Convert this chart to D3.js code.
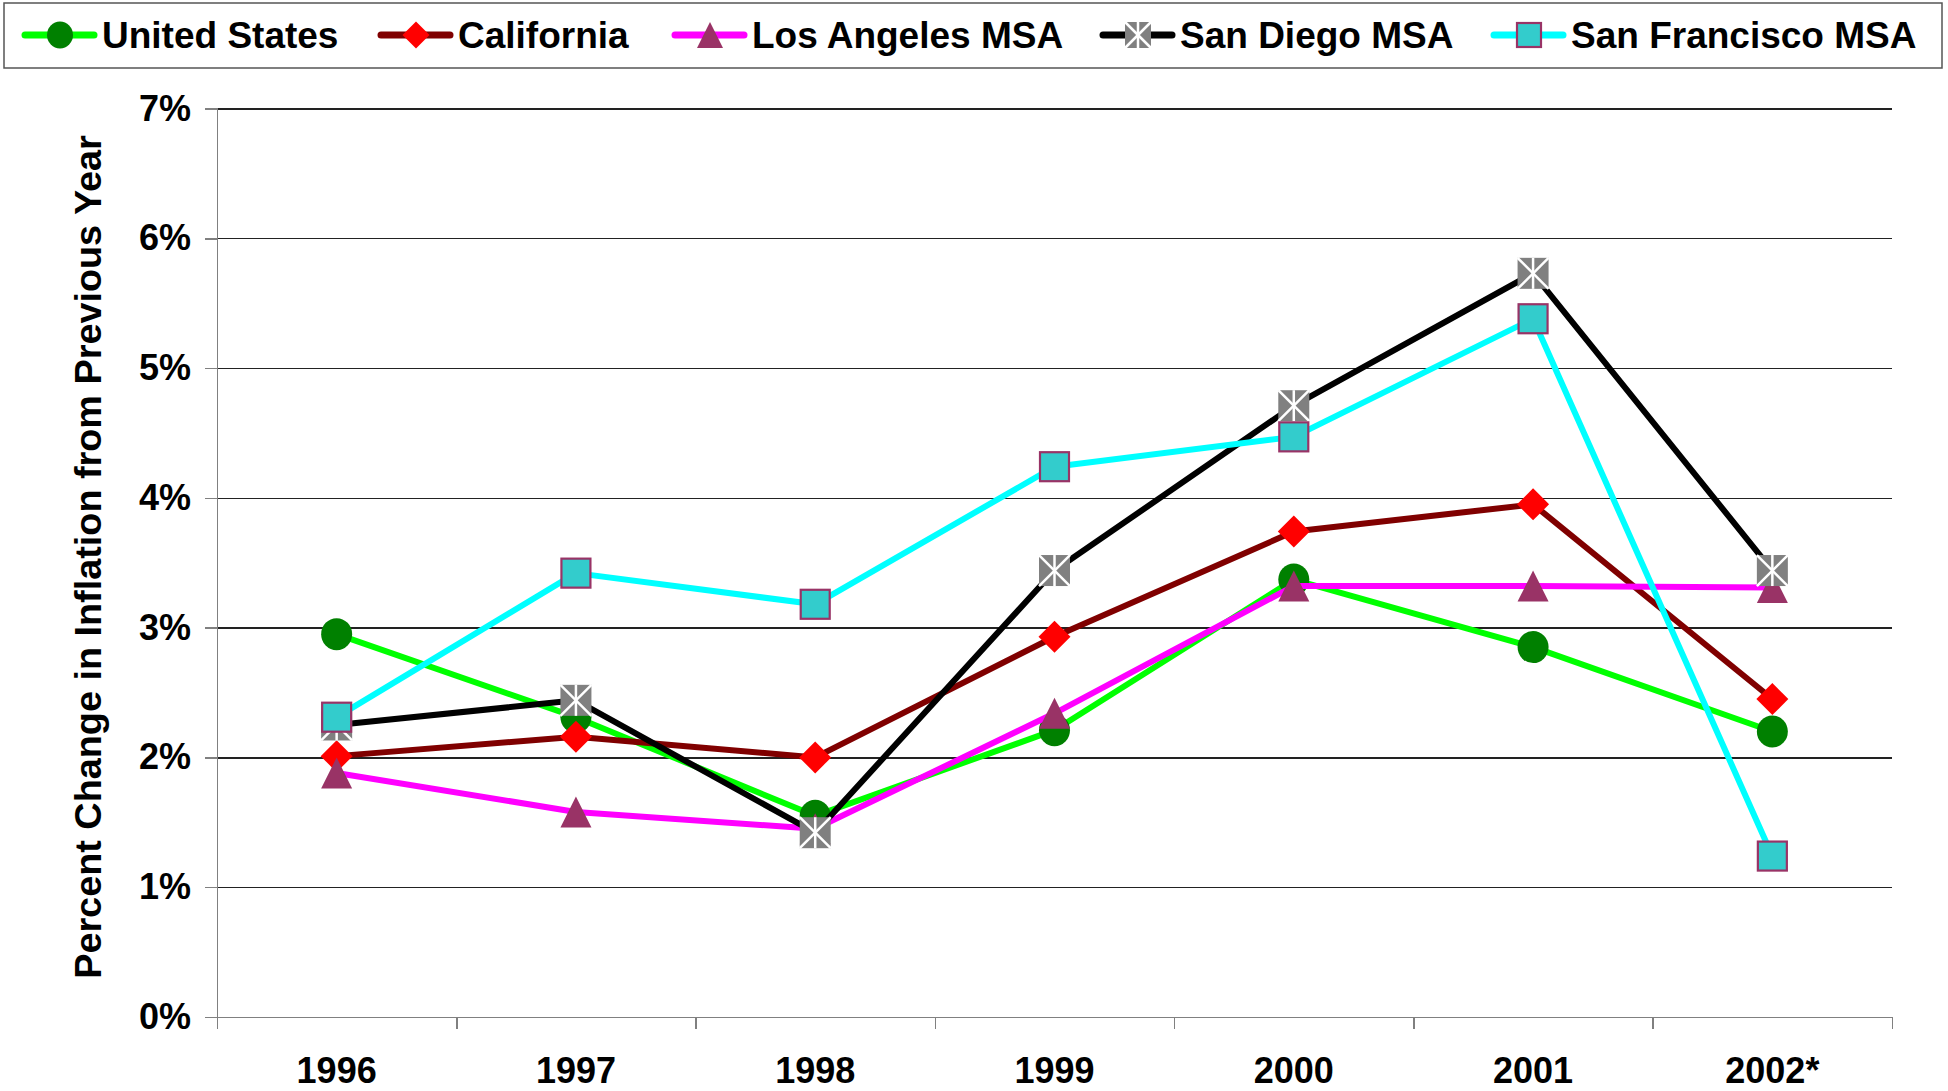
<html lang="en">
<head>
<meta charset="utf-8">
<title>Inflation change 1996-2002</title>
<style>
    body { margin: 0; background-color: white; font-family: "Liberation Sans", Arial, Helvetica, sans-serif; }
    svg { background-color: white; display: block; }
    text { font-weight: bold; fill: black; }
    .axis text { font-size: 36px; font-family: "Liberation Sans", Arial, sans-serif; }
    .grid line { stroke: #222; stroke-width: 1.3; shape-rendering: crispEdges; }
    .grid path { display: none; }
    .axis path, .axis line { stroke: #808080; stroke-width: 1.5; shape-rendering: crispEdges; }
    .legend text { font-size: 37px; }
</style>
</head>
<body>
<script src="https://cdnjs.cloudflare.com/ajax/libs/d3/7.8.5/d3.min.js"></script>
<script>
// categories and values (percent change from previous year)
var years = ["1996", "1997", "1998", "1999", "2000", "2001", "2002*"];
var unitedStates  = [2.95, 2.31, 1.55, 2.21, 3.37, 2.85, 2.20];
var california    = [2.01, 2.16, 2.00, 2.93, 3.74, 3.95, 2.45];
var losAngeles    = [1.88, 1.58, 1.45, 2.34, 3.32, 3.32, 3.31];
var sanDiego      = [2.25, 2.44, 1.42, 3.44, 4.71, 5.73, 3.44];
var sanFrancisco  = [2.31, 3.42, 3.18, 4.24, 4.47, 5.38, 1.24];
var yTicks = [0, 1, 2, 3, 4, 5, 6, 7];

var series = [
    { name: "United States",     values: unitedStates, line: "#00ff00", marker: "circle" },
    { name: "California",        values: california,   line: "#800000", marker: "diamond" },
    { name: "Los Angeles MSA",   values: losAngeles,   line: "#ff00ff", marker: "triangle" },
    { name: "San Diego MSA",     values: sanDiego,     line: "#000000", marker: "star" },
    { name: "San Francisco MSA", values: sanFrancisco, line: "#00ffff", marker: "square" }
];

var fullwidth = 1948, fullheight = 1091;
var margin = { top: 108.5, right: 56, bottom: 74, left: 217 };
var width = fullwidth - margin.left - margin.right;
var height = fullheight - margin.top - margin.bottom;

var svg = d3.select("body").append("svg")
    .attr("width", fullwidth)
    .attr("height", fullheight);

var g = svg.append("g")
    .attr("transform", "translate(" + margin.left + "," + margin.top + ")");

var xScale = d3.scaleBand().domain(years).range([0, width]).padding(0);
var xEdges = d3.scaleLinear().domain([0, years.length]).range([0, width]);
var yScale = d3.scaleLinear().domain([0, 7]).range([height, 0]);

// gridlines
g.append("g")
    .attr("class", "grid")
    .call(d3.axisLeft(yScale).tickValues(yTicks.slice(1)).tickSize(-width).tickFormat(""));

// y axis
g.append("g")
    .attr("class", "y axis")
    .call(d3.axisLeft(yScale).tickValues(yTicks).tickSize(12).tickPadding(14)
        .tickFormat(function(d) { return d + "%"; }));

// x axis: ticks on category edges, labels in the middle
g.append("g")
    .attr("class", "x axis")
    .attr("transform", "translate(0," + height + ")")
    .call(d3.axisBottom(xEdges).ticks(years.length).tickSize(12).tickFormat(""));

g.append("g")
    .attr("class", "x axis labels")
    .attr("transform", "translate(0," + height + ")")
    .call(d3.axisBottom(xScale).tickSize(0).tickPadding(40))
    .call(function(s) { s.select(".domain").remove(); });

// y title
svg.append("text")
    .attr("transform", "translate(88,557) rotate(-90)")
    .attr("text-anchor", "middle")
    .attr("dy", "0.35em")
    .style("font-size", "37.8px")
    .text("Percent Change in Inflation from Previous Year");

// marker drawing
function drawMarker(sel, type, s) {
    var h = s / 2;
    if (type === "circle") {
        sel.append("ellipse").attr("rx", h).attr("ry", h + 0.5).attr("fill", "#008000");
    } else if (type === "diamond") {
        sel.append("polygon")
            .attr("points", [[0, -h - 0.5], [h + 0.5, 0], [0, h + 0.5], [-h - 0.5, 0]].join(" "))
            .attr("fill", "#ff0000");
    } else if (type === "triangle") {
        sel.append("polygon")
            .attr("points", [[0, -h], [h, h], [-h, h]].join(" "))
            .attr("fill", "#993366");
    } else if (type === "star") {
        sel.append("rect").attr("x", -h).attr("y", -h).attr("width", s).attr("height", s)
            .attr("fill", "#808080");
        var ls = [[-h, -h, h, h], [-h, h, h, -h], [0, -h, 0, h]];
        ls.forEach(function(l) {
            sel.append("line")
                .attr("x1", l[0]).attr("y1", l[1]).attr("x2", l[2]).attr("y2", l[3])
                .attr("stroke", "white").attr("stroke-width", 2.5);
        });
    } else if (type === "square") {
        sel.append("rect").attr("x", -h + 1).attr("y", -h + 1).attr("width", s - 2).attr("height", s - 2)
            .attr("fill", "#33cccc").attr("stroke", "#993366").attr("stroke-width", 2.2);
    }
}

var line = d3.line()
    .x(function(d, i) { return xScale(years[i]) + xScale.bandwidth() / 2; })
    .y(function(d) { return yScale(d); });

series.forEach(function(s) {
    var sg = g.append("g").attr("class", "series");
    sg.append("path")
        .datum(s.values)
        .attr("d", line)
        .attr("fill", "none")
        .attr("stroke", s.line)
        .attr("stroke-width", 6)
        .attr("stroke-linejoin", "round");

    sg.selectAll("g.marker")
        .data(s.values)
        .enter()
        .append("g")
        .attr("class", "marker")
        .attr("transform", function(d, i) {
            return "translate(" + (xScale(years[i]) + xScale.bandwidth() / 2) + "," + yScale(d) + ")";
        })
        .each(function() { drawMarker(d3.select(this), s.marker, 31); });
});

// legend
var legendX = [25, 381, 675, 1103, 1494];
var legend = svg.append("g").attr("class", "legend");
legend.append("rect")
    .attr("x", 4).attr("y", 3).attr("width", 1938).attr("height", 65)
    .attr("fill", "white").attr("stroke", "#555").attr("stroke-width", 1.5);

series.forEach(function(s, i) {
    var it = legend.append("g").attr("transform", "translate(" + legendX[i] + ",35)");
    it.append("line")
        .attr("x1", 0).attr("x2", 69).attr("y1", 0).attr("y2", 0)
        .attr("stroke", s.line).attr("stroke-width", 7).attr("stroke-linecap", "round");
    var m = it.append("g").attr("transform", "translate(35,0)");
    drawMarker(m, s.marker, 26);
    it.append("text").attr("x", 77).attr("y", 13).text(s.name);
});
</script>
</body>
</html>
